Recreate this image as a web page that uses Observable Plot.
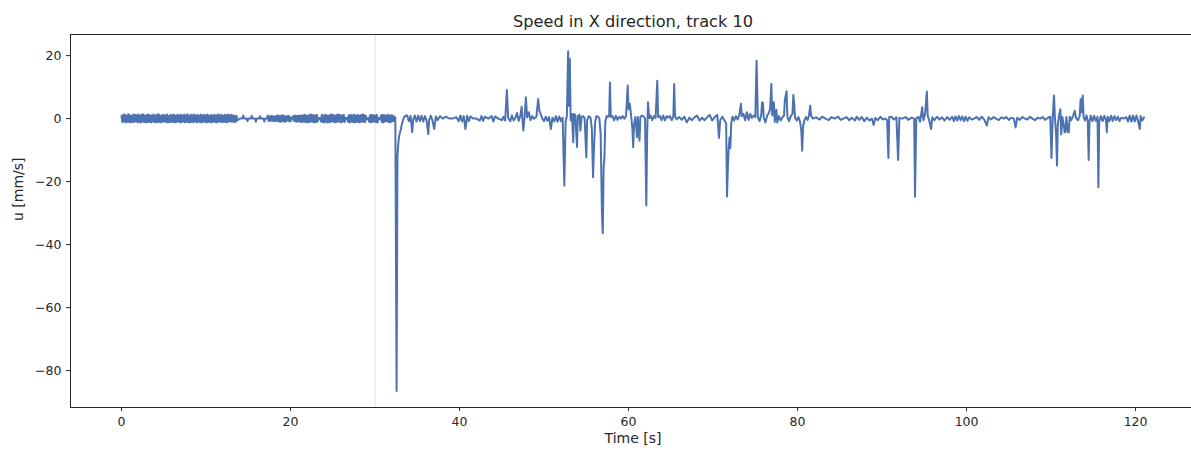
<!DOCTYPE html>
<html>
<head>
<meta charset="utf-8">
<script src="https://cdn.jsdelivr.net/npm/d3@7"></script>
<script src="https://cdn.jsdelivr.net/npm/@observablehq/plot@0.6"></script>
<style>
  html, body { margin: 0; padding: 0; background: #fff; }
  #chart svg { display: block; }
</style>
</head>
<body>
<div id="chart"></div>
<script>
// ---- data ----
const time = [
  0.0,0.1,0.2,0.3,0.4,0.5,0.6,0.7,0.8,0.9,
  1.0,1.1,1.2,1.3,1.4,1.5,1.6,1.7,1.8,1.9,
  2.0,2.1,2.2,2.3,2.4,2.5,2.6,2.7,2.8,2.9,
  3.0,3.1,3.2,3.3,3.4,3.5,3.6,3.7,3.8,3.9,
  4.0,4.1,4.2,4.3,4.4,4.5,4.6,4.7,4.8,4.9,
  5.0,5.1,5.2,5.3,5.4,5.5,5.6,5.7,5.8,5.9,
  6.0,6.1,6.2,6.3,6.4,6.5,6.6,6.7,6.8,6.9,
  7.0,7.1,7.2,7.3,7.4,7.5,7.6,7.7,7.8,7.9,
  8.0,8.1,8.2,8.3,8.4,8.5,8.6,8.7,8.8,8.9,
  9.0,9.1,9.2,9.3,9.4,9.5,9.6,9.7,9.8,9.9,
  10.0,10.1,10.2,10.3,10.4,10.5,10.6,10.7,10.8,10.9,
  11.0,11.1,11.2,11.3,11.4,11.5,11.6,11.7,11.8,11.9,
  12.0,12.1,12.2,12.3,12.4,12.5,12.6,12.7,12.8,12.9,
  13.0,13.1,13.2,13.3,13.4,13.5,13.6,13.7,
  14.0,14.3,14.4,14.5,14.8,14.9,15.0,15.3,15.4,15.5,15.8,15.9,
  16.0,16.3,16.4,16.5,16.8,16.9,17.0,17.2,17.3,17.4,
  17.5,17.6,17.7,17.8,17.9,
  18.0,18.1,18.2,18.3,18.4,18.5,18.6,18.7,18.8,18.9,
  19.0,19.1,19.2,19.3,19.4,19.5,19.6,19.7,19.8,19.9,
  20.0,20.1,20.2,20.3,20.4,20.5,20.6,20.7,20.8,20.9,
  21.0,21.1,21.2,21.3,21.4,
  21.5,21.6,21.7,21.8,21.9,
  22.0,22.1,22.2,22.3,22.4,22.5,22.6,22.7,22.8,22.9,
  23.0,23.1,23.2,23.3,23.4,23.5,23.6,23.7,23.8,23.9,
  24.0,24.1,24.2,24.3,24.4,24.5,24.6,24.7,24.8,24.9,
  25.0,25.1,25.2,25.3,25.4,25.5,25.6,25.7,25.8,25.9,
  26.0,26.1,26.2,26.3,26.4,26.5,26.6,26.7,26.8,26.9,
  27.0,27.1,27.2,27.3,27.4,27.5,27.6,27.7,27.8,27.9,
  28.0,28.1,28.2,28.3,28.4,28.5,28.6,28.7,28.8,28.9,
  29.0,29.1,29.2,29.3,29.4,29.5,29.6,29.7,29.8,29.9,
  30.0,30.1,30.2,30.3,30.4,30.5,30.6,30.7,30.8,30.9,
  31.0,31.1,31.2,31.3,31.4,31.5,31.6,31.7,31.8,31.9,
  32.0,32.1,32.2,32.3,32.4,
  32.55,32.65,32.75,32.85,33.0,33.2,33.4,33.6,
  33.8,34.0,34.2,34.4,34.5,34.7,34.9,35.1,35.3,35.5,
  35.7,35.9,36.1,36.3,36.4,36.6,36.8,37.0,37.2,37.4,
  37.7,38.0,38.4,38.8,39.2,39.6,39.9,40.1,40.3,40.5,
  40.7,40.9,41.1,41.3,41.6,42.0,42.4,42.6,42.8,43.0,
  43.4,43.8,44.0,44.2,44.6,45.0,45.2,45.4,
  45.6,45.75,46.0,46.2,46.4,46.6,46.8,47.0,47.2,47.35,
  47.45,47.55,47.7,47.85,48.0,48.2,48.4,48.6,48.8,49.1,
  49.3,49.45,49.6,49.8,50.0,50.2,50.4,50.6,50.8,51.0,
  51.2,51.4,51.6,51.8,52.0,52.2,
  52.3,52.4,52.55,52.7,52.85,52.95,53.05,53.15,53.3,53.45,
  53.55,53.7,53.9,54.0,54.2,54.3,54.45,54.6,54.8,55.0,
  55.1,55.3,55.5,55.65,55.8,55.9,56.05,56.2,56.4,56.55,
  56.7,56.85,56.95,57.05,57.15,57.25,57.4,57.55,57.7,57.8,
  57.9,58.1,58.3,58.5,58.7,58.9,59.1,59.3,59.5,59.7,
  59.9,60.0,60.15,60.3,60.45,60.55,60.65,60.8,61.0,61.1,
  61.3,61.4,61.6,61.8,61.95,62.1,62.2,62.3,62.45,62.6,
  62.8,63.0,63.2,63.4,63.5,63.7,63.9,64.1,64.3,64.5,
  64.7,64.9,65.1,65.3,65.4,65.5,65.7,
  66.0,66.3,66.6,66.9,67.2,67.5,67.8,68.1,68.4,68.7,
  69.0,69.3,69.6,69.9,70.2,70.5,70.7,70.85,71.1,71.4,
  71.55,71.65,71.75,71.85,71.95,72.05,72.15,72.3,72.5,72.7,
  72.9,73.1,73.3,73.4,73.6,73.8,74.0,74.2,74.4,74.6,
  74.8,75.0,75.15,75.3,75.5,75.7,75.8,75.9,76.0,76.2,
  76.4,76.6,76.75,76.9,77.0,77.2,77.3,77.5,77.6,77.8,
  78.0,78.2,78.4,78.5,78.7,78.8,79.0,79.2,79.4,79.5,
  79.6,79.7,79.9,80.1,80.3,80.45,80.55,80.65,80.8,81.0,
  81.2,81.35,81.5,81.6,81.8,82.2,82.6,82.9,83.3,83.7,
  84.0,84.4,84.8,85.1,85.4,85.8,86.1,86.4,86.8,87.0,
  87.3,87.6,87.9,88.2,88.5,88.8,89.0,89.2,89.5,89.8,
  90.1,90.4,
  90.6,90.75,90.85,91.1,91.4,91.7,91.9,92.05,92.4,92.8,
  93.1,93.5,93.8,93.9,94.05,94.3,94.5,94.75,94.9,95.1,
  95.3,95.4,95.6,95.8,95.95,96.2,96.5,96.8,97.1,97.4,
  97.7,98.0,98.3,98.5,98.7,98.9,99.1,99.3,99.5,99.7,
  99.9,100.1,100.3,100.6,100.9,101.2,101.5,101.8,102.1,102.4,
  102.6,102.9,103.2,103.5,103.8,104.1,104.4,104.7,105.0,105.3,
  105.6,105.8,106.0,106.3,106.6,106.9,107.2,107.5,107.8,108.1,
  108.4,108.7,109.0,109.3,109.6,109.9,110.05,110.2,110.35,110.45,
  110.6,110.7,110.8,110.95,111.1,111.2,111.35,111.5,111.6,111.7,
  111.8,112.0,112.1,112.2,112.4,112.6,112.8,112.95,113.2,113.4,
  113.5,113.6,113.75,113.85,114.0,114.2,114.35,114.45,114.55,114.7,
  114.9,115.1,115.3,115.5,115.6,115.7,115.9,116.1,116.3,116.5,
  116.6,116.7,116.9,117.1,117.3,117.5,117.7,117.9,118.1,118.3,
  118.6,118.9,119.1,119.3,119.5,119.7,119.9,120.1,120.3,120.5,
  120.6,120.8,121.0
];
const speed = [
  0.8,-1.1,1.3,-0.9,1.2,-1.2,1.0,-1.0,1.4,-1.1,
  1.1,-1.2,0.9,-1.0,1.3,-1.1,1.2,-0.8,1.1,-1.2,
  1.3,-1.0,1.0,-1.2,1.2,-0.9,1.4,-1.1,0.9,-1.2,
  1.2,-1.1,1.3,-1.0,1.0,-1.2,1.1,-0.9,1.3,-1.1,
  1.0,-1.2,1.2,-1.0,1.4,-1.1,0.9,-1.2,1.1,-1.0,
  1.2,-0.9,1.0,-1.1,1.3,-1.2,0.8,-1.0,1.2,-1.1,
  1.1,-1.0,1.3,-1.2,0.9,-1.1,1.2,-0.8,1.0,-1.2,
  1.3,-1.1,1.0,-0.9,1.2,-1.2,1.1,-1.0,1.4,-1.1,
  0.9,-1.2,1.2,-1.0,1.1,-1.1,1.3,-0.9,1.0,-1.2,
  1.2,-1.0,0.9,-1.1,1.3,-1.2,1.0,-0.9,1.2,-1.1,
  1.1,-1.2,1.3,-1.0,0.8,-1.1,1.2,-1.2,1.0,-0.9,
  1.2,-1.1,1.0,-1.2,1.3,-0.9,1.1,-1.0,1.2,-1.1,
  0.9,-1.0,1.2,-1.1,1.0,-1.2,1.3,-0.8,1.1,-1.0,
  1.2,-0.9,1.0,-1.1,0.8,-1.0,0.9,-0.6,
  0.0,0.0,1.0,0.0,0.0,-0.8,0.0,0.0,0.9,0.0,0.0,-1.0,
  0.0,0.0,0.8,0.0,0.0,-0.9,0.0,0.0,1.0,-0.7,
  0.7,-0.8,0.9,-0.6,0.8,
  -0.9,0.6,-0.7,0.9,-0.8,1.0,-0.9,0.8,-1.0,0.9,
  -0.8,1.1,-0.9,0.8,-1.0,0.7,-0.6,0.9,-0.8,0.7,
  -0.9,0.2,0.0,0.8,-0.7,1.0,-0.9,0.8,-1.0,0.9,
  -0.8,1.0,-1.1,0.9,-1.0,
  1.1,-1.0,1.2,-1.1,0.9,
  -1.2,1.0,-1.1,1.3,-0.9,1.2,-1.0,1.1,-1.2,1.0,
  -1.1,1.2,-0.9,0.3,0.0,0.2,-0.9,1.2,-1.1,1.0,
  -1.2,1.3,-1.0,1.1,-1.2,0.9,-1.1,1.2,-1.0,1.3,
  -0.8,1.1,-1.2,1.0,-1.1,1.2,-0.9,1.3,-1.0,1.1,
  -1.2,1.0,-0.9,1.2,-1.1,0.2,0.0,0.3,-1.0,1.1,
  -1.2,1.2,-1.0,1.0,-1.1,1.3,-1.2,0.9,-1.0,1.2,
  -1.1,1.0,-1.2,1.1,-0.9,1.3,-1.0,1.2,-1.1,0.9,
  -0.3,0.0,0.2,-1.0,1.1,-1.2,1.2,-1.0,1.1,-0.9,
  1.0,-1.1,1.2,-1.2,0.2,0.0,-0.2,1.0,-1.1,1.2,
  -1.2,1.1,-0.9,1.0,-0.8,1.2,-1.1,1.0,-1.2,1.1,
  -0.9,1.0,-0.8,0.6,0.3,
  -86.5,-12.0,-8.0,-5.5,-4.0,-1.5,0.3,0.9,
  1.0,-0.8,0.9,-4.3,-0.5,1.0,-0.9,1.0,-0.8,0.9,
  -1.0,0.8,-0.7,-4.9,-0.5,0.9,-0.6,-3.3,0.7,-0.5,
  0.8,0.0,0.6,0.0,0.0,0.5,-0.8,1.0,-0.9,0.8,
  -3.3,0.9,-0.8,0.7,0.0,0.0,-0.6,0.8,-0.7,0.6,
  0.0,0.8,-0.9,0.7,0.0,-0.5,0.6,-0.6,
  9.1,0.3,-0.8,1.0,-0.6,0.2,1.8,-0.7,0.9,3.8,
  -0.5,-3.8,0.5,6.8,0.4,2.0,-0.5,0.8,0.0,0.6,
  6.2,2.5,1.5,0.0,-0.8,0.6,-0.7,0.5,-3.3,0.3,
  -0.9,0.8,-1.0,0.7,-0.8,0.3,
  -10.7,-21.3,-1.0,0.8,21.4,4.0,19.0,-0.5,1.5,-7.5,
  1.5,1.0,-9.0,0.8,1.2,-3.8,0.5,0.8,0.2,-12.3,
  -0.5,0.8,0.3,-3.0,-18.6,-10.0,-1.0,0.8,0.6,0.0,
  -5.0,-30.0,-36.4,-15.5,-12.0,-1.0,0.8,0.5,1.0,11.5,
  0.5,0.8,-0.6,0.9,-0.4,0.6,0.0,0.8,0.0,0.8,
  10.5,3.0,4.7,1.0,-3.0,-9.1,-2.0,0.5,-5.9,0.5,
  -7.0,0.5,1.0,0.6,0.0,-27.6,-5.0,5.2,0.2,1.0,
  -0.5,0.8,0.2,12.0,0.5,0.8,-0.5,1.0,-0.6,0.8,
  0.3,0.8,-0.5,0.6,11.0,0.8,-0.2,
  0.5,-0.4,0.6,-1.2,0.3,-0.5,0.4,1.0,-0.6,0.3,
  -0.5,0.4,1.2,-0.6,0.5,1.2,-6.1,-0.5,0.6,-0.8,
  -1.5,-24.7,-16.0,-9.6,-6.0,-9.3,-1.5,0.6,-0.6,0.8,
  -0.3,1.0,4.7,0.8,1.5,-0.5,2.0,-0.4,1.5,0.2,
  1.0,0.5,18.4,0.5,-0.8,1.2,5.2,5.0,0.2,-1.2,
  1.0,1.8,3.0,11.0,1.0,5.2,-1.0,2.8,-1.2,0.8,
  -0.6,0.4,1.0,6.0,8.7,0.5,-0.8,0.8,1.5,7.5,
  5.0,0.3,-0.6,0.5,-1.0,-4.0,-10.2,-2.5,-0.6,0.5,
  -0.4,1.0,4.1,1.0,0.0,0.4,-0.3,0.6,0.0,-0.5,
  0.5,0.0,0.6,-0.4,0.0,0.5,-0.5,0.3,-0.6,0.6,
  -0.4,0.5,-0.8,0.3,-0.6,0.0,-2.0,0.2,-0.5,0.6,
  -0.3,0.0,
  -0.5,-12.5,0.5,0.6,-0.3,0.4,-13.1,0.2,0.0,0.5,
  -0.4,0.3,0.0,-24.8,0.0,0.6,-1.0,3.6,-0.5,1.5,
  8.6,1.0,-0.8,-3.3,0.4,-0.5,0.6,-0.3,0.4,-0.6,
  0.5,-0.4,0.6,-0.8,0.7,-0.6,0.8,-0.5,0.7,-0.8,
  0.6,-0.7,0.4,-0.3,0.0,0.5,-0.4,0.6,-0.3,-2.2,
  0.4,-0.3,0.5,0.0,-0.5,0.4,0.0,0.5,-0.4,0.3,
  0.0,-2.8,0.3,-0.4,0.5,0.0,-0.3,0.6,0.0,-0.5,
  0.3,0.0,0.5,-0.4,0.2,0.6,-12.5,1.0,7.3,0.5,
  -5.0,-14.9,-2.0,1.0,3.0,-5.0,0.5,-2.0,-4.3,-4.3,
  0.5,-4.3,-4.3,0.6,-0.5,0.8,2.5,0.2,-0.5,1.0,
  6.2,2.0,7.3,0.5,-0.6,1.0,-1.0,-13.1,-1.0,1.0,
  -0.8,0.9,-0.7,0.6,-21.8,-1.0,0.8,-0.8,0.9,-0.5,
  -4.3,0.6,-0.8,0.9,-0.7,0.8,-0.5,0.6,-0.8,0.3,
  0.0,0.5,-0.9,1.0,-1.0,1.0,-0.9,1.0,-0.8,-3.3,
  0.8,-0.6,0.4
];
const xTicks = [0, 20, 40, 60, 80, 100, 120];
const yTicks = [-80, -60, -40, -20, 0, 20];
const xDomain = [-6.04, 126.62];
const yDomain = [-91.7, 26.7];
const markerTime = [30];
const titleText = ["Speed in X direction, track 10"];
const xLabel = ["Time [s]"];
const yLabel = ["u [mm/s]"];

if (time.length !== speed.length) console.error("length mismatch", time.length, speed.length);
const samples = time.map((t, i) => ({t, u: speed[i]}));

const font = "'DejaVu Sans', sans-serif";
const ink = "#262626";
const minus = d => (d < 0 ? "\u2212" + Math.abs(d) : String(d));

const chart = Plot.plot({
  width: 1191,
  height: 451,
  marginLeft: 70,
  marginRight: 0,
  marginTop: 34,
  marginBottom: 44,
  style: {fontFamily: font, fontSize: "12px", color: ink, background: "#fff", overflow: "visible"},
  x: {domain: xDomain},
  y: {domain: yDomain},
  marks: [
    Plot.ruleX(markerTime, {stroke: "#e4e4e4", strokeWidth: 1.2}),
    Plot.line(samples, {x: "t", y: "u", stroke: "#4C72B0", strokeWidth: 2}),
    Plot.ruleY([yDomain[1]], {stroke: ink, strokeWidth: 1}),
    Plot.ruleY([yDomain[0]], {stroke: ink, strokeWidth: 1}),
    Plot.ruleX([xDomain[0]], {stroke: ink, strokeWidth: 1}),
    Plot.axisX(xTicks, {anchor: "bottom", tickSize: 4, tickPadding: 6, label: null, stroke: ink, fill: ink, fontSize: 12.5, tickFormat: minus}),
    Plot.axisY(yTicks, {anchor: "left", tickSize: 4, tickPadding: 5, label: null, stroke: ink, fill: ink, fontSize: 12.5, tickFormat: minus}),
    Plot.text(titleText, {text: d => d, frameAnchor: "top", dy: -19, dx: 2, fontSize: 16.2, fill: ink}),
    Plot.text(xLabel, {text: d => d, frameAnchor: "bottom", dy: 35, dx: 2, fontSize: 14, fill: ink}),
    Plot.text(yLabel, {text: d => d, frameAnchor: "left", dx: -52, rotate: -90, fontSize: 14, fill: ink})
  ]
});
document.getElementById("chart").appendChild(chart);
</script>
</body>
</html>
